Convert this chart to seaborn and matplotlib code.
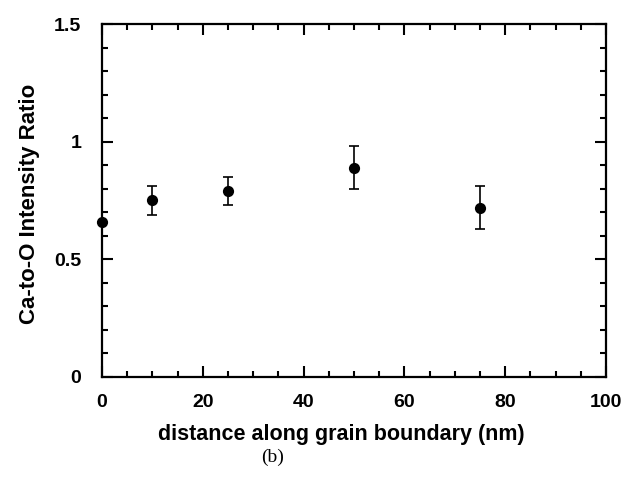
import matplotlib
matplotlib.use("Agg")
import matplotlib.pyplot as plt
from matplotlib.ticker import MultipleLocator, FuncFormatter
import seaborn as sns
import pandas as pd

distance = [0, 10, 25, 50, 75]
ratio = [0.66, 0.75, 0.79, 0.89, 0.72]
err_low = [0.0, 0.06, 0.06, 0.09, 0.09]
err_high = [0.0, 0.06, 0.06, 0.09, 0.09]

df = pd.DataFrame({"distance": distance, "ratio": ratio})

sns.set_style("ticks")
plt.rcParams["font.family"] = ["Liberation Sans", "DejaVu Sans"]
plt.rcParams.update({"text.color": "black", "axes.labelcolor": "black",
                     "xtick.color": "black", "ytick.color": "black",
                     "axes.edgecolor": "black"})

fig = plt.figure(figsize=(6.33, 4.86), dpi=100)
ax = fig.add_axes([0.1611, 0.2243, 0.7962, 0.7263])

ax.errorbar(distance, ratio, yerr=[err_low, err_high], fmt="none",
            ecolor="black", elinewidth=1.2, capsize=3.5, capthick=1.2,
            clip_on=False, zorder=2)
sns.scatterplot(data=df, x="distance", y="ratio", ax=ax, color="black",
                s=65, edgecolor="black", linewidth=0, clip_on=False, zorder=3)

ax.set_xlim(0, 100)
ax.set_ylim(0, 1.5)
ax.xaxis.set_major_locator(MultipleLocator(20))
ax.xaxis.set_minor_locator(MultipleLocator(5))
ax.yaxis.set_major_locator(MultipleLocator(0.5))
ax.yaxis.set_minor_locator(MultipleLocator(0.1))


def fmt_y(v, pos):
    if abs(v - round(v)) < 1e-9:
        return str(int(round(v)))
    return f"{v:g}"


ax.yaxis.set_major_formatter(FuncFormatter(fmt_y))

for s in ax.spines.values():
    s.set_linewidth(1.6)
    s.set_visible(True)
    s.set_color("black")

ax.tick_params(which="both", direction="in", top=True, right=True,
               width=1.5, color="black", labelcolor="black")
ax.tick_params(which="major", length=8, labelsize=14)
ax.tick_params(axis="x", which="major", pad=12)
ax.tick_params(axis="y", which="major", pad=15)
ax.tick_params(which="minor", length=4)
for lab in ax.get_xticklabels() + ax.get_yticklabels():
    lab.set_fontweight("bold")

ax.set_xlabel("distance along grain boundary (nm)", fontsize=15.5,
              fontweight="bold", color="black")
ax.set_ylabel("Ca-to-O Intensity Ratio", fontsize=16, fontweight="bold",
              color="black")
ax.xaxis.set_label_coords(0.475, -0.132)
ax.yaxis.set_label_coords(-0.122, 0.49)

fig.text(0.43, 0.058, "(b)", fontsize=14, ha="center", va="center",
         color="black", family=["Liberation Serif", "DejaVu Serif"])

fig.savefig("out.png", dpi=100, facecolor="white")
